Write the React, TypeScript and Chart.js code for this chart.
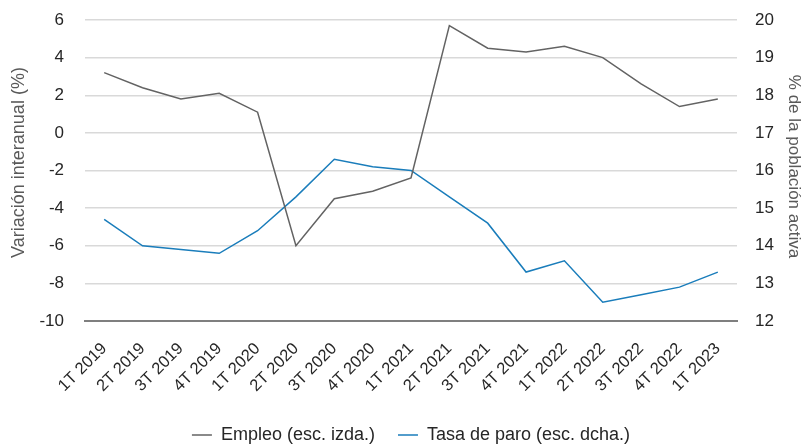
import React, { useEffect, useRef } from "react";
import { Chart, registerables } from "chart.js";

Chart.register(...registerables);

const quarters = [
  "1T 2019", "2T 2019", "3T 2019", "4T 2019",
  "1T 2020", "2T 2020", "3T 2020", "4T 2020",
  "1T 2021", "2T 2021", "3T 2021", "4T 2021",
  "1T 2022", "2T 2022", "3T 2022", "4T 2022",
  "1T 2023",
];

// Empleo: variación interanual (%), eje izquierdo
const empleo = [3.2, 2.4, 1.8, 2.1, 1.1, -6.0, -3.5, -3.1, -2.4, 5.7, 4.5, 4.3, 4.6, 4.0, 2.6, 1.4, 1.8];

// Tasa de paro: % de la población activa, eje derecho
const tasaParo = [14.7, 14.0, 13.9, 13.8, 14.4, 15.3, 16.3, 16.1, 16.0, 15.3, 14.6, 13.3, 13.6, 12.5, 12.7, 12.9, 13.3];

const leftTitle = "Variación interanual (%)";
const rightTitle = "% de la población activa";
const empleoLabel = "Empleo (esc. izda.)";
const paroLabel = "Tasa de paro (esc. dcha.)";

const FONT = "'Liberation Sans', Arial, sans-serif";
const GREY = "#636363";
const BLUE = "#1a7dbb";
const TEXT = "#262626";
const TITLE = "#595959";

// Rotated axis titles, placed beside the two value axes.
const axisTitles = {
  id: "axisTitles",
  afterDraw(chart: any) {
    const { ctx, chartArea } = chart;
    const midY = (chartArea.top + chartArea.bottom) / 2;
    ctx.save();
    ctx.fillStyle = TITLE;
    ctx.textAlign = "center";
    ctx.textBaseline = "middle";

    ctx.font = `18px ${FONT}`;
    ctx.save();
    ctx.translate(19, midY - 8);
    ctx.rotate(-Math.PI / 2);
    ctx.fillText(leftTitle, 0, 0);
    ctx.restore();

    ctx.font = `17px ${FONT}`;
    ctx.save();
    ctx.translate(chartArea.right + 57, midY - 4);
    ctx.rotate(Math.PI / 2);
    ctx.fillText(rightTitle, 0, 0);
    ctx.restore();

    ctx.restore();
  },
};

export default function App() {
  const canvasRef = useRef<HTMLCanvasElement | null>(null);

  useEffect(() => {
    if (!canvasRef.current) return;
    const chart = new Chart(canvasRef.current, {
      type: "line",
      data: {
        labels: quarters,
        datasets: [
          {
            label: empleoLabel,
            data: empleo,
            yAxisID: "y",
            borderColor: GREY,
            backgroundColor: GREY,
            borderWidth: 1.5,
            pointRadius: 0,
            tension: 0,
          },
          {
            label: paroLabel,
            data: tasaParo,
            yAxisID: "y1",
            borderColor: BLUE,
            backgroundColor: BLUE,
            borderWidth: 1.5,
            pointRadius: 0,
            tension: 0,
          },
        ],
      },
      options: {
        responsive: false,
        maintainAspectRatio: false,
        animation: false,
        layout: { padding: { top: 20, left: 0, right: 0, bottom: -7 } },
        plugins: {
          tooltip: { enabled: false },
          legend: {
            position: "bottom",
            fullSize: false,
            labels: {
              usePointStyle: true,
              pointStyle: "line",
              pointStyleWidth: 20,
              boxHeight: 2,
              padding: 23,
              color: TEXT,
              font: { family: FONT, size: 18 },
            },
          },
        },
        scales: {
          x: {
            offset: true,
            grid: { display: false, drawTicks: false },
            border: { display: true, color: "#7f7f7f", width: 2 },
            ticks: {
              autoSkip: false,
              maxRotation: 45,
              minRotation: 45,
              padding: 18,
              color: TEXT,
              font: { family: FONT, size: 16.5 },
            },
            afterFit: (scale: any) => {
              scale.height = 82;
              scale.paddingLeft = 0;
              scale.paddingRight = 0;
            },
          },
          y: {
            position: "left",
            min: -10,
            max: 6,
            ticks: {
              stepSize: 2,
              padding: 21,
              color: TEXT,
              font: { family: FONT, size: 17 },
            },
            grid: { color: "#d9d9d9", lineWidth: 1.5, drawTicks: false },
            border: { display: false },
            afterFit: (scale: any) => {
              scale.width = 85;
              scale.paddingTop = 0;
              scale.paddingBottom = 0;
            },
          },
          y1: {
            position: "right",
            min: 12,
            max: 20,
            ticks: {
              stepSize: 1,
              padding: 18,
              color: TEXT,
              font: { family: FONT, size: 17 },
            },
            grid: { drawOnChartArea: false, drawTicks: false },
            border: { display: false },
            afterFit: (scale: any) => {
              scale.width = 65;
              scale.paddingTop = 0;
              scale.paddingBottom = 0;
            },
          },
        },
      },
      plugins: [axisTitles],
    });
    return () => chart.destroy();
  }, []);

  return (
    <div style={{ position: "fixed", left: 0, top: 0, width: 802, height: 447, background: "#fff" }}>
      <canvas ref={canvasRef} width={802} height={447} />
    </div>
  );
}
